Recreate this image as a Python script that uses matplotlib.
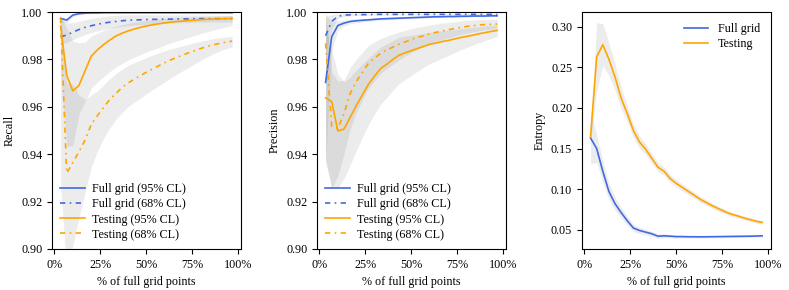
#
# recall / precision / entropy vs fraction of full grid points
#

import numpy as np
import matplotlib
matplotlib.use('Agg')
import matplotlib.pyplot as plt
from matplotlib.ticker import PercentFormatter

plt.rcParams['font.family'] = 'Liberation Serif'
plt.rcParams['font.size'] = 8.7

BLUE = '#4169e1'
ORANGE = '#ffa500'
DASHDOT = (0, (3.2, 2.6, 1, 2.6))

# fraction of full grid points (k/30)
frac = [k / 30 for k in range(1, 30)]

# ---------------- recall ----------------
rec_full95 = [0.9973, 0.9966, 0.9987, 0.9993, 0.9995, 0.9996, 0.9996, 0.9997, 0.9997, 0.9997,
              0.9997, 0.9997, 0.9997, 0.9997, 0.9997, 0.9997, 0.9997, 0.9997, 0.9997, 0.9997,
              0.9997, 0.9997, 0.9997, 0.9997, 0.9997, 0.9997, 0.9997, 0.9997, 0.9997]
rec_full95_lo = [0.0015, 0.0012, 0.0006, 0.0004, 0.0003, 0.0003, 0.0002, 0.0002, 0.0002, 0.0002,
                 0.0002, 0.0002, 0.0002, 0.0002, 0.0002, 0.0002, 0.0002, 0.0002, 0.0002, 0.0002,
                 0.0002, 0.0002, 0.0002, 0.0002, 0.0002, 0.0002, 0.0002, 0.0002, 0.0002]
rec_full95_hi = [0.0005, 0.0006, 0.0003, 0.0002, 0.0002, 0.0002, 0.0002, 0.0002, 0.0002, 0.0002,
                 0.0002, 0.0002, 0.0002, 0.0002, 0.0002, 0.0002, 0.0002, 0.0002, 0.0002, 0.0002,
                 0.0002, 0.0002, 0.0002, 0.0002, 0.0002, 0.0002, 0.0002, 0.0002, 0.0002]

rec_full68 = [0.9895, 0.9903, 0.9915, 0.9926, 0.9935, 0.9942, 0.9948, 0.9953, 0.9957, 0.9960,
              0.9963, 0.9965, 0.9966, 0.9967, 0.9968, 0.9969, 0.9969, 0.9970, 0.9970, 0.9971,
              0.9971, 0.9971, 0.9972, 0.9972, 0.9972, 0.9972, 0.9972, 0.9972, 0.9972]
rec_full68_lo = [0.0030, 0.0032, 0.0032, 0.0031, 0.0030, 0.0029, 0.0028, 0.0027, 0.0026, 0.0025,
                 0.0024, 0.0023, 0.0022, 0.0021, 0.0020, 0.0019, 0.0018, 0.0018, 0.0017, 0.0017,
                 0.0016, 0.0016, 0.0015, 0.0015, 0.0015, 0.0014, 0.0014, 0.0014, 0.0014]
rec_full68_hi = [0.0075, 0.0050, 0.0040, 0.0035, 0.0032, 0.0030, 0.0029, 0.0028, 0.0027, 0.0026,
                 0.0024, 0.0023, 0.0022, 0.0021, 0.0020, 0.0019, 0.0018, 0.0018, 0.0017, 0.0017,
                 0.0016, 0.0016, 0.0015, 0.0015, 0.0015, 0.0014, 0.0014, 0.0014, 0.0014]

rec_test95 = [0.9940, 0.9733, 0.9667, 0.9690, 0.9752, 0.9813, 0.9840, 0.9862, 0.9881, 0.9898,
              0.9910, 0.9920, 0.9928, 0.9935, 0.9941, 0.9946, 0.9950, 0.9954, 0.9957, 0.9960,
              0.9962, 0.9964, 0.9966, 0.9968, 0.9969, 0.9970, 0.9971, 0.9972, 0.9973]
rec_test95_lo = [0.0200, 0.0300, 0.0230, 0.0120, 0.0130, 0.0135, 0.0135, 0.0135, 0.0133, 0.0130,
                 0.0127, 0.0123, 0.0119, 0.0115, 0.0110, 0.0105, 0.0100, 0.0094, 0.0088, 0.0082,
                 0.0076, 0.0070, 0.0064, 0.0058, 0.0052, 0.0046, 0.0040, 0.0035, 0.0030]
rec_test95_hi = [0.0040, 0.0200, 0.0210, 0.0180, 0.0120, 0.0085, 0.0070, 0.0060, 0.0050, 0.0042,
                 0.0036, 0.0032, 0.0029, 0.0026, 0.0024, 0.0022, 0.0020, 0.0019, 0.0018, 0.0017,
                 0.0016, 0.0015, 0.0014, 0.0013, 0.0013, 0.0012, 0.0012, 0.0012, 0.0012]

rec_test68 = [0.9975, 0.9320, 0.9365, 0.9410, 0.9460, 0.9525, 0.9562, 0.9597, 0.9630, 0.9656,
              0.9680, 0.9700, 0.9716, 0.9731, 0.9746, 0.9760, 0.9773, 0.9786, 0.9798, 0.9809,
              0.9819, 0.9829, 0.9838, 0.9847, 0.9855, 0.9862, 0.9868, 0.9873, 0.9877]
rec_test68_lo = [0.0700, 0.0420, 0.0350, 0.0280, 0.0220, 0.0180, 0.0150, 0.0130, 0.0120, 0.0110,
                 0.0105, 0.0100, 0.0097, 0.0094, 0.0091, 0.0088, 0.0084, 0.0080, 0.0076, 0.0071,
                 0.0066, 0.0061, 0.0055, 0.0049, 0.0043, 0.0037, 0.0032, 0.0028, 0.0025]
rec_test68_hi = [0.0025, 0.0380, 0.0330, 0.0240, 0.0170, 0.0125, 0.0105, 0.0095, 0.0088, 0.0083,
                 0.0078, 0.0074, 0.0070, 0.0066, 0.0062, 0.0058, 0.0054, 0.0050, 0.0046, 0.0042,
                 0.0039, 0.0036, 0.0033, 0.0030, 0.0028, 0.0026, 0.0024, 0.0022, 0.0020]

# ---------------- precision ----------------
prec_full95 = [0.9703, 0.9896, 0.9943, 0.9953, 0.9960, 0.9963, 0.9965, 0.9967, 0.9969, 0.9971,
               0.9972, 0.9973, 0.9974, 0.9975, 0.9976, 0.9977, 0.9978, 0.9979, 0.9980, 0.9980,
               0.9981, 0.9981, 0.9982, 0.9982, 0.9983, 0.9983, 0.9983, 0.9984, 0.9984]
prec_full95_lo = [0.0330, 0.0060, 0.0020, 0.0012, 0.0009, 0.0008, 0.0007, 0.0006, 0.0006, 0.0005,
                  0.0005, 0.0005, 0.0004, 0.0004, 0.0004, 0.0004, 0.0004, 0.0003, 0.0003, 0.0003,
                  0.0003, 0.0003, 0.0003, 0.0003, 0.0003, 0.0003, 0.0003, 0.0003, 0.0003]
prec_full95_hi = [0.0290, 0.0060, 0.0020, 0.0012, 0.0009, 0.0008, 0.0007, 0.0006, 0.0006, 0.0005,
                  0.0005, 0.0005, 0.0004, 0.0004, 0.0004, 0.0004, 0.0004, 0.0003, 0.0003, 0.0003,
                  0.0003, 0.0003, 0.0003, 0.0003, 0.0003, 0.0003, 0.0003, 0.0003, 0.0003]

prec_full68 = [0.9900, 0.9960, 0.9982, 0.9987, 0.9988, 0.9989, 0.9989, 0.9989, 0.9990, 0.9990,
               0.9990, 0.9990, 0.9990, 0.9990, 0.9990, 0.9990, 0.9990, 0.9990, 0.9990, 0.9990,
               0.9990, 0.9990, 0.9990, 0.9990, 0.9990, 0.9990, 0.9990, 0.9990, 0.9990]
prec_full68_lo = [0.0080, 0.0030, 0.0010, 0.0006, 0.0005, 0.0004, 0.0004, 0.0003, 0.0003, 0.0003,
                  0.0003, 0.0003, 0.0003, 0.0003, 0.0003, 0.0003, 0.0003, 0.0003, 0.0003, 0.0003,
                  0.0003, 0.0003, 0.0003, 0.0003, 0.0003, 0.0003, 0.0003, 0.0003, 0.0003]
prec_full68_hi = [0.0080, 0.0030, 0.0010, 0.0006, 0.0005, 0.0004, 0.0004, 0.0003, 0.0003, 0.0003,
                  0.0003, 0.0003, 0.0003, 0.0003, 0.0003, 0.0003, 0.0003, 0.0003, 0.0003, 0.0003,
                  0.0003, 0.0003, 0.0003, 0.0003, 0.0003, 0.0003, 0.0003, 0.0003, 0.0003]

prec_test95 = [0.9638, 0.9622, 0.9498, 0.9506, 0.9555, 0.9605, 0.9650, 0.9695, 0.9730, 0.9762,
               0.9780, 0.9800, 0.9818, 0.9828, 0.9837, 0.9846, 0.9855, 0.9864, 0.9869, 0.9875,
               0.9880, 0.9886, 0.9892, 0.9897, 0.9902, 0.9908, 0.9913, 0.9918, 0.9922]
prec_test95_lo = [0.0260, 0.0360, 0.0240, 0.0210, 0.0200, 0.0190, 0.0180, 0.0170, 0.0160, 0.0150,
                  0.0140, 0.0130, 0.0120, 0.0112, 0.0104, 0.0096, 0.0088, 0.0082, 0.0076, 0.0070,
                  0.0064, 0.0058, 0.0052, 0.0047, 0.0042, 0.0038, 0.0034, 0.0030, 0.0026]
prec_test95_hi = [0.0300, 0.0220, 0.0240, 0.0200, 0.0170, 0.0150, 0.0130, 0.0110, 0.0100, 0.0090,
                  0.0085, 0.0080, 0.0075, 0.0070, 0.0065, 0.0060, 0.0055, 0.0050, 0.0048, 0.0045,
                  0.0043, 0.0040, 0.0038, 0.0035, 0.0033, 0.0030, 0.0028, 0.0026, 0.0024]

prec_test68 = [0.9868, 0.9516, 0.9509, 0.9572, 0.9655, 0.9706, 0.9745, 0.9784, 0.9806, 0.9826,
               0.9840, 0.9852, 0.9864, 0.9874, 0.9884, 0.9893, 0.9900, 0.9908, 0.9914, 0.9920,
               0.9925, 0.9930, 0.9935, 0.9939, 0.9942, 0.9945, 0.9947, 0.9948, 0.9949]
prec_test68_lo = [0.0500, 0.0260, 0.0200, 0.0170, 0.0150, 0.0130, 0.0115, 0.0105, 0.0095, 0.0085,
                  0.0078, 0.0072, 0.0066, 0.0060, 0.0055, 0.0050, 0.0046, 0.0042, 0.0039, 0.0036,
                  0.0034, 0.0032, 0.0030, 0.0028, 0.0026, 0.0024, 0.0022, 0.0021, 0.0020]
prec_test68_hi = [0.0130, 0.0230, 0.0200, 0.0140, 0.0110, 0.0095, 0.0085, 0.0075, 0.0068, 0.0062,
                  0.0058, 0.0055, 0.0052, 0.0049, 0.0046, 0.0043, 0.0040, 0.0037, 0.0035, 0.0033,
                  0.0031, 0.0029, 0.0027, 0.0025, 0.0024, 0.0023, 0.0022, 0.0021, 0.0020]

# ---------------- entropy ----------------
ent_full = [0.1630, 0.1500, 0.1220, 0.0970, 0.0820, 0.0710, 0.0610, 0.0520, 0.0490, 0.0470,
            0.0450, 0.0420, 0.0425, 0.0420, 0.0415, 0.0415, 0.0413, 0.0413, 0.0412, 0.0413,
            0.0414, 0.0415, 0.0416, 0.0417, 0.0418, 0.0419, 0.0420, 0.0422, 0.0425]
ent_full_err = [0.0320, 0.0170, 0.0130, 0.0100, 0.0080, 0.0065, 0.0055, 0.0045, 0.0040, 0.0035,
                0.0030, 0.0025, 0.0025, 0.0020, 0.0020, 0.0018, 0.0018, 0.0016, 0.0016, 0.0015,
                0.0015, 0.0015, 0.0014, 0.0014, 0.0014, 0.0013, 0.0013, 0.0013, 0.0013]

ent_test = [0.1640, 0.2630, 0.2780, 0.2600, 0.2380, 0.2120, 0.1930, 0.1720, 0.1580, 0.1490,
            0.1380, 0.1270, 0.1220, 0.1130, 0.1070, 0.1020, 0.0970, 0.0920, 0.0870, 0.0830,
            0.0790, 0.0755, 0.0720, 0.0690, 0.0670, 0.0645, 0.0625, 0.0605, 0.0590]
ent_test_err = [0.0050, 0.0420, 0.0260, 0.0200, 0.0160, 0.0130, 0.0100, 0.0085, 0.0075, 0.0065,
                0.0060, 0.0055, 0.0050, 0.0048, 0.0045, 0.0042, 0.0040, 0.0038, 0.0036, 0.0034,
                0.0032, 0.0030, 0.0028, 0.0027, 0.0026, 0.0025, 0.0024, 0.0023, 0.0022]

labels = ['Full grid (95% CL)', 'Full grid (68% CL)', 'Testing (95% CL)', 'Testing (68% CL)']
colors = [BLUE, BLUE, ORANGE, ORANGE]
styles = ['-', DASHDOT, '-', DASHDOT]

x = np.array(frac)


def band(ax, y, lo, hi):
    y = np.array(y)
    ax.fill_between(x, y - np.array(lo), y + np.array(hi), color='gray', alpha=0.15, lw=0)


fig = plt.figure(figsize=(7.89, 2.9), dpi=100)
ax1 = fig.add_axes([0.0659, 0.1414, 0.2392, 0.8172])
ax2 = fig.add_axes([0.4018, 0.1414, 0.2392, 0.8172])
ax3 = fig.add_axes([0.7376, 0.1414, 0.2392, 0.8172])

rec = [(rec_full95, rec_full95_lo, rec_full95_hi),
       (rec_full68, rec_full68_lo, rec_full68_hi),
       (rec_test95, rec_test95_lo, rec_test95_hi),
       (rec_test68, rec_test68_lo, rec_test68_hi)]
prec = [(prec_full95, prec_full95_lo, prec_full95_hi),
        (prec_full68, prec_full68_lo, prec_full68_hi),
        (prec_test95, prec_test95_lo, prec_test95_hi),
        (prec_test68, prec_test68_lo, prec_test68_hi)]

for ax, series, ylab in [(ax1, rec, 'Recall'), (ax2, prec, 'Precision')]:
    for (y, lo, hi) in series:
        band(ax, y, lo, hi)
    for (y, lo, hi), lab, c, ls in zip(series, labels, colors, styles):
        ax.plot(x, y, color=c, linestyle=ls, lw=1.2, label=lab)
    ax.set_ylim(0.90, 1.00)
    ax.set_yticks([0.90, 0.92, 0.94, 0.96, 0.98, 1.00])
    ax.set_ylabel(ylab)
    ax.legend(loc='lower left', frameon=False, handlelength=2.0, handletextpad=0.6,
              labelspacing=0.25, borderaxespad=0.3)

band(ax3, ent_full, ent_full_err, ent_full_err)
band(ax3, ent_test, ent_test_err, ent_test_err)
ax3.plot(x, ent_full, color=BLUE, lw=1.2, label='Full grid')
ax3.plot(x, ent_test, color=ORANGE, lw=1.2, label='Testing')
ax3.set_ylabel('Entropy')
ax3.legend(loc='upper right', frameon=False, handlelength=2.0, handletextpad=0.8,
           labelspacing=0.25)

for ax in [ax1, ax2, ax3]:
    ax.set_xticks([0, 0.25, 0.5, 0.75, 1.0])
    ax.xaxis.set_major_formatter(PercentFormatter(1.0, decimals=0))
    ax.set_xlabel('% of full grid points')
    ax.tick_params(length=3.5)

fig.savefig('out.png', dpi=100)
plt.close()
